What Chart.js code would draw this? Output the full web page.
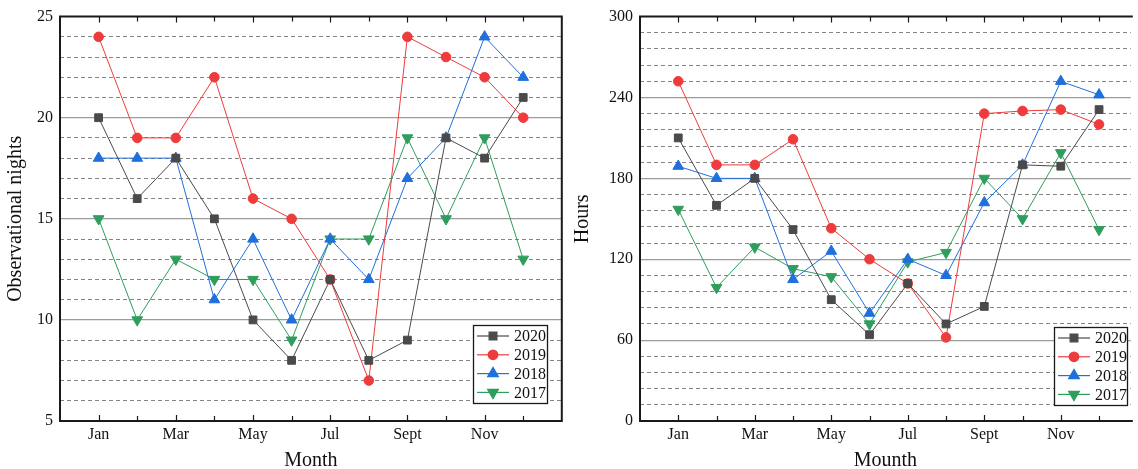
<!DOCTYPE html>
<html>
<head>
<meta charset="utf-8">
<script src="https://cdn.jsdelivr.net/npm/chart.js@4.4.1/dist/chart.umd.min.js"></script>
<style>
  html, body { margin: 0; padding: 0; background: #fff; }
  #wrap { position: relative; width: 1138px; height: 469px; overflow: hidden; }
  .panel { position: absolute; top: 0; width: 569px; height: 469px; }
</style>
</head>
<body>
<div id="wrap">
  <div class="panel" style="left:0"><canvas id="nightsChart" width="569" height="469"></canvas></div>
  <div class="panel" style="left:569px"><canvas id="hoursChart" width="569" height="469"></canvas></div>
</div>
<script>
// monthly data, one array per year
const monthLabels = ['Jan', 'Feb', 'Mar', 'Apr', 'May', 'Jun', 'Jul', 'Aug', 'Sept', 'Oct', 'Nov', 'Dec'];
const years = ['2020', '2019', '2018', '2017'];

const nights2020 = [20, 16, 18, 15, 10, 8, 12, 8, 9, 19, 18, 21];
const nights2019 = [24, 19, 19, 22, 16, 15, 12, 7, 24, 23, 22, 20];
const nights2018 = [18, 18, 18, 11, 14, 10, 14, 12, 17, 19, 24, 22];
const nights2017 = [15, 10, 13, 12, 12, 9, 14, 14, 19, 15, 19, 13];

const hours2020 = [210, 160, 180, 142, 90, 64, 102, 72, 85, 190, 189, 231];
const hours2019 = [252, 190, 190, 209, 143, 120, 102, 62, 228, 230, 231, 220];
const hours2018 = [189, 180, 180, 105, 126, 80, 120, 108, 162, 190, 252, 242];
const hours2017 = [157, 99, 129, 113, 107, 72, 118, 125, 180, 150, 199, 142];

const seriesStyles = [
    { color: '#4a4a4a', pointStyle: 'rect', rotation: 0, radius: 5.5 },
    { color: '#ee3b3b', pointStyle: 'circle', rotation: 0, radius: 4.8 },
    { color: '#1f6fdc', pointStyle: 'triangle', rotation: 0, radius: 6.2 },
    { color: '#2f9e5c', pointStyle: 'triangle', rotation: 180, radius: 6.2 }
];

const serif = "'Times New Roman', 'Liberation Serif', serif";

// box round the plot area, with inward ticks on top and bottom
const framePlugin = {
    id: 'frame',
    afterDatasetsDraw(chart, args, opts) {
        const { ctx, chartArea: a, scales } = chart;
        ctx.save();
        ctx.strokeStyle = '#1a1a1a';
        ctx.lineWidth = 1.2;
        for (let m = 1; m <= 12; m++) {
            const x = Math.round(scales.x.getPixelForValue(m)) + 0.5;
            const len = m % 2 === 1 ? 6 : 5;
            ctx.beginPath();
            ctx.moveTo(x, a.top);
            ctx.lineTo(x, a.top + len);
            ctx.moveTo(x, a.bottom);
            ctx.lineTo(x, a.bottom - len);
            ctx.stroke();
        }
        ctx.lineWidth = 2;
        ctx.beginPath();
        ctx.moveTo(a.right + (opts.openRight ? 2 : 0), a.top);
        ctx.lineTo(a.left, a.top);
        ctx.lineTo(a.left, a.bottom);
        ctx.lineTo(a.right + (opts.openRight ? 2 : 0), a.bottom);
        if (!opts.openRight) ctx.closePath();
        ctx.stroke();
        ctx.restore();
    }
};

// legend box inside the lower right corner
const boxLegendPlugin = {
    id: 'boxLegend',
    afterDatasetsDraw(chart, args, opts) {
        const { ctx } = chart;
        const b = opts.box;
        ctx.save();
        ctx.fillStyle = '#fff';
        ctx.fillRect(b.x, b.y, b.w, b.h);
        ctx.strokeStyle = '#1a1a1a';
        ctx.lineWidth = 1.3;
        ctx.strokeRect(b.x + 0.5, b.y + 0.5, b.w, b.h);
        chart.data.datasets.forEach((ds, i) => {
            const y = b.y + 11 + i * 18.8;
            ctx.strokeStyle = ds.borderColor;
            ctx.lineWidth = 1.2;
            ctx.beginPath();
            ctx.moveTo(b.x + 4, y);
            ctx.lineTo(b.x + 36, y);
            ctx.stroke();
            ctx.fillStyle = ds.pointBackgroundColor;
            ctx.strokeStyle = ds.pointBackgroundColor;
            Chart.helpers.drawPoint(ctx, {
                pointStyle: ds.pointStyle,
                rotation: ds.pointRotation,
                radius: ds.pointRadius,
                borderWidth: 1
            }, b.x + 20, y);
            ctx.fillStyle = '#111';
            ctx.font = '16px ' + serif;
            ctx.textBaseline = 'middle';
            ctx.textAlign = 'left';
            ctx.fillText(ds.label, b.x + 41, y + 1);
        });
        ctx.restore();
    }
};

function buildDatasets(seriesList) {
    return seriesList.map((values, i) => {
        const st = seriesStyles[i];
        return {
            label: years[i],
            data: values.map((v, m) => ({ x: m + 1, y: v })),
            borderColor: st.color,
            borderWidth: 1,
            pointStyle: st.pointStyle,
            pointRotation: st.rotation,
            pointRadius: st.radius,
            pointBackgroundColor: st.color,
            pointBorderColor: st.color,
            pointBorderWidth: 1,
            tension: 0
        };
    });
}

function renderPanel(canvasId, seriesList, cfg) {
    const ctx = document.getElementById(canvasId).getContext('2d');
    return new Chart(ctx, {
        type: 'line',
        data: { datasets: buildDatasets(seriesList) },
        options: {
            responsive: false,
            animation: false,
            events: [],
            layout: { padding: { top: 14, right: cfg.padRight, left: 0, bottom: 0 } },
            plugins: {
                legend: { display: false },
                tooltip: { enabled: false },
                frame: { openRight: cfg.openRight },
                boxLegend: { box: cfg.legendBox }
            },
            scales: {
                x: {
                    type: 'linear',
                    min: 0,
                    max: cfg.xMax,
                    afterFit: s => { s.height = 48; },
                    grid: { display: false, drawTicks: false },
                    border: { display: false },
                    ticks: {
                        stepSize: 1,
                        autoSkip: false,
                        maxRotation: 0,
                        padding: 4,
                        color: '#111',
                        font: { family: serif, size: 16 },
                        callback: v => (Number.isInteger(v) && v % 2 === 1 && v <= 12) ? monthLabels[v - 1] : ''
                    },
                    title: {
                        display: true,
                        text: cfg.xTitle,
                        color: '#111',
                        font: { family: serif, size: 20, lineHeight: 1 },
                        padding: { top: 0, bottom: -2 }
                    }
                },
                yMinor: {
                    type: 'linear',
                    position: 'left',
                    min: cfg.yMin,
                    max: cfg.yMax,
                    afterFit: s => { s.width = 0; },
                    ticks: { display: false, stepSize: cfg.minor },
                    border: { display: false, dash: [4, 3] },
                    grid: {
                        drawTicks: false,
                        lineWidth: 1,
                        color: c => (c.tick.value % cfg.major === 0) ? 'rgba(0,0,0,0)' : '#858585'
                    }
                },
                y: {
                    type: 'linear',
                    position: 'left',
                    min: cfg.yMin,
                    max: cfg.yMax,
                    afterFit: s => { s.width = cfg.yWidth; },
                    border: { display: false },
                    grid: {
                        drawTicks: false,
                        lineWidth: 1.2,
                        color: c => (c.tick.value === cfg.yMin || c.tick.value === cfg.yMax) ? 'rgba(0,0,0,0)' : '#9c9c9c'
                    },
                    ticks: {
                        stepSize: cfg.major,
                        padding: 7,
                        color: '#111',
                        font: { family: serif, size: 16 }
                    },
                    title: {
                        display: true,
                        text: cfg.yTitle,
                        color: '#111',
                        font: { family: serif, size: 20, lineHeight: 1.2 },
                        padding: { top: cfg.yTitlePad, bottom: 0 }
                    }
                }
            }
        },
        plugins: [framePlugin, boxLegendPlugin]
    });
}

renderPanel('nightsChart', [nights2020, nights2019, nights2018, nights2017], {
    yMin: 5, yMax: 25, major: 5, minor: 1,
    xMax: 13, padRight: 3, yWidth: 60, openRight: false,
    yTitle: 'Observational nights', yTitlePad: 4, xTitle: 'Month',
    legendBox: { x: 473, y: 325, w: 74, h: 78 }
});

renderPanel('hoursChart', [hours2020, hours2019, hours2018, hours2017], {
    yMin: 0, yMax: 300, major: 60, minor: 12,
    xMax: 12.83, padRight: 0, yWidth: 71, openRight: true,
    yTitle: 'Hours', yTitlePad: 2, xTitle: 'Mounth',
    legendBox: { x: 485, y: 327, w: 73, h: 78 }
});
</script>
</body>
</html>
